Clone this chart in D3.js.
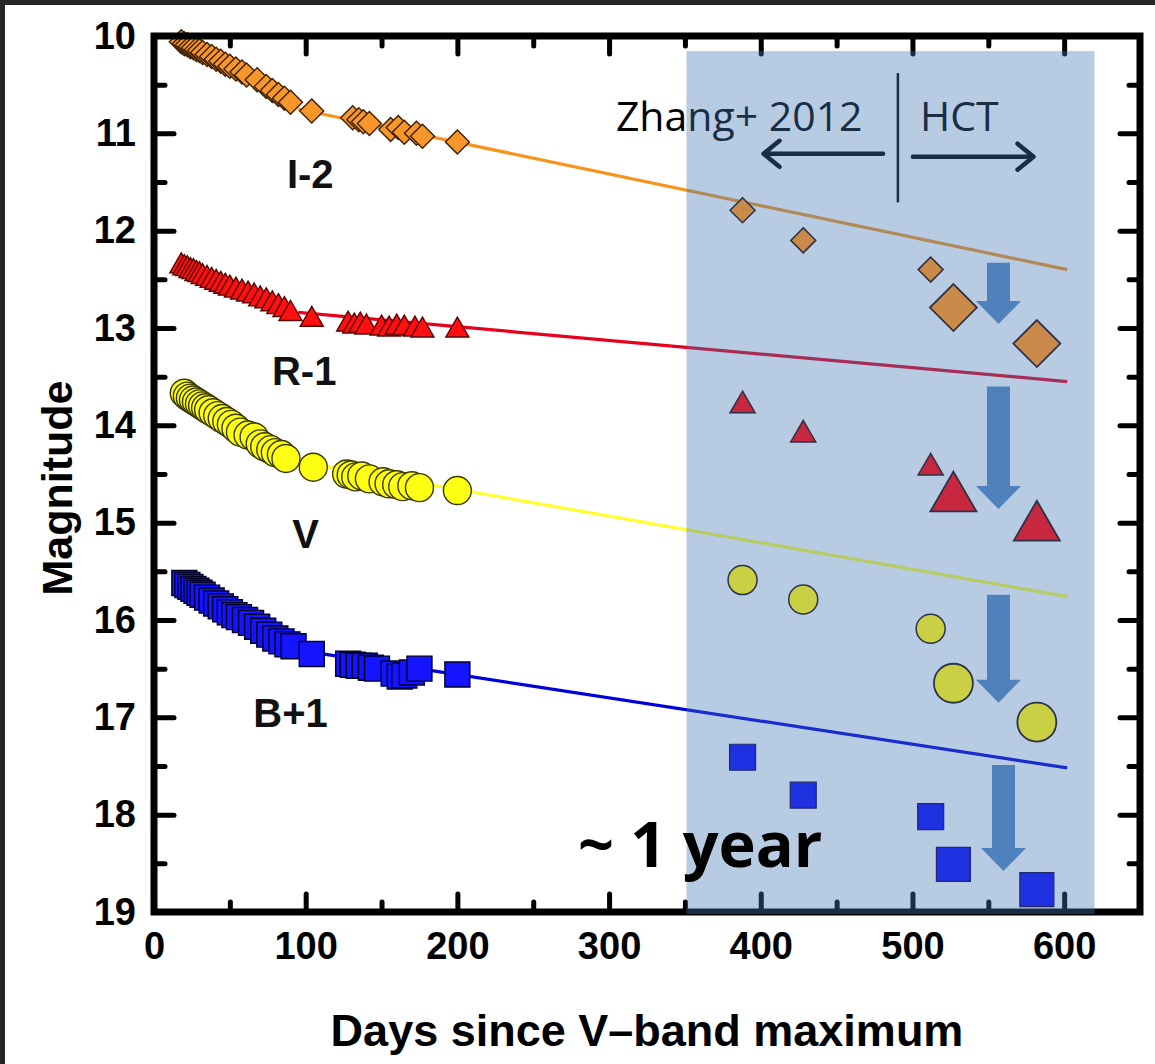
<!DOCTYPE html>
<html>
<head>
<meta charset="utf-8">
<script src="https://cdn.jsdelivr.net/npm/d3@7"></script>
<style>
  html, body { margin: 0; padding: 0; background: #262626; }
  svg { display: block; }
</style>
</head>
<body>
<svg id="chart" width="1155" height="1064"></svg>
<script>
// ---- Light-curve data (magnitudes already shifted by the band offsets) ----
const iDays = [18,20,22,24,26,28,30,32,35,38,41,44,47,50,54,58,61,68,74,78,82,86,90,104,131,135,138,142,156,161,165,173,177,200];
const iMags = [10.06,10.08,10.09,10.11,10.12,10.14,10.15,10.17,10.19,10.21,10.24,10.26,10.29,10.31,10.34,10.37,10.40,10.45,10.52,10.56,10.60,10.64,10.68,10.77,10.84,10.86,10.88,10.90,10.96,10.94,10.99,11.00,11.03,11.09];

const rDays = [18,20,22,24,26,28,30,32,35,38,41,44,47,50,54,58,62,66,70,74,78,82,86,90,104,128,132,136,140,150,155,160,165,172,177,200];
const rMags = [12.33,12.35,12.36,12.38,12.39,12.41,12.42,12.44,12.46,12.48,12.50,12.52,12.54,12.56,12.58,12.60,12.62,12.64,12.67,12.69,12.72,12.75,12.78,12.82,12.88,12.93,12.95,12.94,12.96,12.97,12.98,12.96,12.97,12.98,12.99,12.99];

const vDays = [20,22,24,26,28,30,32,34,36,39,42,45,48,51,54,57,62,66,70,73,77,80,84,87,105,127,130,133,137,142,151,155,160,164,170,175,200];
const vMags = [13.67,13.70,13.72,13.74,13.76,13.78,13.80,13.82,13.84,13.87,13.90,13.93,13.96,13.99,14.03,14.07,14.10,14.12,14.19,14.22,14.25,14.28,14.30,14.34,14.43,14.50,14.51,14.53,14.52,14.55,14.58,14.60,14.61,14.63,14.62,14.64,14.67];

const bDays = [20,22,24,26,28,30,32,35,38,41,44,47,50,53,56,60,64,68,72,76,80,84,88,92,104,128,131,135,139,143,147,158,162,165,170,175,200];
const bMags = [15.62,15.64,15.66,15.68,15.70,15.72,15.74,15.77,15.80,15.83,15.86,15.89,15.92,15.95,15.97,16.00,16.03,16.07,16.11,16.15,16.19,16.22,16.25,16.27,16.35,16.45,16.46,16.47,16.47,16.49,16.50,16.55,16.58,16.57,16.54,16.50,16.56];

// Late-time epochs: Zhang+ 2012 and HCT
const zhangDays = [388, 428, 512];
const hctDays   = [527, 582];
const iZhang = [11.79, 12.10, 12.40], iHct = [12.79, 13.16];
const rZhang = [13.76, 14.06, 14.40], rHct = [14.68, 14.98];
const vZhang = [15.59, 15.79, 16.09], vHct = [16.65, 17.05];
const bZhang = [17.41, 17.80, 18.02], bHct = [18.51, 18.77];

// Linear decline fits: [startDay, endDay], [startMag, endMag]
const fitDays = [95, 602];
const iFit = [10.75, 12.40];
const rFit = [12.84, 13.55];
const vFit = [14.37, 15.76];
const bFit = [16.31, 17.52];

// Axis ticks
const xMajor = [0, 100, 200, 300, 400, 500, 600];
const xMinor = [50, 150, 250, 350, 450, 550];
const yMajor = [10, 11, 12, 13, 14, 15, 16, 17, 18, 19];
const yMinor = [10.5, 11.5, 12.5, 13.5, 14.5, 15.5, 16.5, 17.5, 18.5];

// Band labels: [text, day, mag]
const bandLabels = [["I-2", 103, 11.56], ["R-1", 99, 13.585], ["V", 100, 15.26], ["B+1", 90, 17.10]];

// Drop arrows: [day, fromMag, toMag]
const dropArrows = [[556.7, 12.33, 12.96], [556.7, 13.60, 14.86], [556.7, 15.74, 16.85], [560, 17.49, 18.58]];

// ---- Layout ----
const svg = d3.select("#chart");
const x = d3.scaleLinear().domain([0, 650]).range([154, 1140]);
const y = d3.scaleLinear().domain([10, 19]).range([36, 912]);
const AX_FONT = "'Liberation Sans', Arial, sans-serif";
const CAL_FONT = "'Open Sans', 'Noto Sans', sans-serif";

svg.append("rect").attr("x", 5).attr("y", 5).attr("width", 1150).attr("height", 1059).attr("fill", "#ffffff");

const plot = svg.append("g");

// Fit lines
const fits = [[iFit, "#f7941d"], [rFit, "#e6001e"], [vFit, "#ffff33"], [bFit, "#0000dd"]];
const line = d3.line().x(d => x(d[0])).y(d => y(d[1]));
fits.forEach(([m, c]) => {
  plot.append("path")
    .datum([[fitDays[0], m[0]], [fitDays[1], m[1]]])
    .attr("d", line).attr("fill", "none").attr("stroke", c).attr("stroke-width", 3.2);
});

// Marker shapes (size = full width)
function shapePath(shape, s) {
  const h = s / 2;
  if (shape === "diamond") return `M0,${-h}L${h},0L0,${h}L${-h},0Z`;
  if (shape === "square") return `M${-h},${-h}H${h}V${h}H${-h}Z`;
  if (shape === "triangle") { const t = s * 0.866 / 2; return `M0,${-t}L${h},${t}L${-h},${t}Z`; }
  return d3.arc()({innerRadius: 0, outerRadius: h, startAngle: 0, endAngle: 2 * Math.PI});
}
function markers(layer, days, mags, shape, size, fill, stroke, sw) {
  layer.append("g").selectAll("path").data(days.map((d, i) => [d, mags[i]])).join("path")
    .attr("transform", d => `translate(${x(d[0])},${y(d[1])})`)
    .attr("d", shapePath(shape, size))
    .attr("fill", fill).attr("stroke", stroke).attr("stroke-width", sw);
}

// Early-time photometry
markers(plot, iDays, iMags, "diamond", 24, "#f7962a", "#3d2000", 1.4);
markers(plot, rDays, rMags, "triangle", 23, "#ff1010", "#5a0000", 1.4);
markers(plot, vDays, vMags, "circle", 28, "#ffff14", "#3a3a00", 1.4);
markers(plot, bDays, bMags, "square", 25, "#1414ff", "#00002a", 1.4);

// Axes with inward ticks on all four sides
function styleAxis(g) {
  g.select(".domain").remove();
  g.selectAll(".tick line").attr("stroke", "#000").attr("stroke-width", 5).attr("stroke-linecap", "round");
  g.selectAll(".tick text").attr("font-family", AX_FONT).attr("font-weight", "bold").attr("font-size", 38).attr("fill", "#000");
}
plot.append("g").attr("transform", `translate(0,${y(19)})`)
  .call(d3.axisBottom(x).tickValues(xMajor).tickSize(-18).tickPadding(20).tickFormat(d3.format("d"))).call(styleAxis);
plot.append("g").attr("transform", `translate(0,${y(19)})`)
  .call(d3.axisBottom(x).tickValues(xMinor).tickSize(-10).tickFormat("")).call(styleAxis);
plot.append("g").attr("transform", `translate(0,${y(10)})`)
  .call(d3.axisTop(x).tickValues(xMajor).tickSize(-18).tickFormat("")).call(styleAxis);
plot.append("g").attr("transform", `translate(0,${y(10)})`)
  .call(d3.axisTop(x).tickValues(xMinor).tickSize(-10).tickFormat("")).call(styleAxis);
plot.append("g").attr("transform", `translate(${x(0)},0)`)
  .call(d3.axisLeft(y).tickValues(yMajor).tickSize(-20).tickPadding(18).tickFormat(d3.format("d"))).call(styleAxis);
plot.append("g").attr("transform", `translate(${x(0)},0)`)
  .call(d3.axisLeft(y).tickValues(yMinor).tickSize(-11).tickFormat("")).call(styleAxis);
plot.append("g").attr("transform", `translate(${x(650)},0)`)
  .call(d3.axisRight(y).tickValues(yMajor).tickSize(-20).tickFormat("")).call(styleAxis);
plot.append("g").attr("transform", `translate(${x(650)},0)`)
  .call(d3.axisRight(y).tickValues(yMinor).tickSize(-11).tickFormat("")).call(styleAxis);

// Plot frame
plot.append("rect")
  .attr("x", x(0)).attr("y", y(10)).attr("width", x(650) - x(0)).attr("height", y(19) - y(10))
  .attr("fill", "none").attr("stroke", "#000").attr("stroke-width", 7);

// Axis titles
svg.append("text").attr("x", (x(0) + x(650)) / 2).attr("y", 1046).attr("text-anchor", "middle")
  .attr("font-family", AX_FONT).attr("font-weight", "bold").attr("font-size", 45).attr("fill", "#000")
  .text("Days since V\u2013band maximum");
svg.append("text").attr("transform", "translate(72,488) rotate(-90)").attr("text-anchor", "middle")
  .attr("font-family", AX_FONT).attr("font-weight", "bold").attr("font-size", 43).attr("fill", "#000")
  .text("Magnitude");

// Band labels
plot.append("g").selectAll("text").data(bandLabels).join("text")
  .attr("x", d => x(d[1])).attr("y", d => y(d[2])).attr("text-anchor", "middle")
  .attr("font-family", AX_FONT).attr("font-weight", "bold").attr("font-size", 40).attr("fill", "#111")
  .text(d => d[0]);

// Source annotation (sits beneath the highlight band)
const note = svg.append("g");
note.append("text").attr("x", x(304.5)).attr("y", y(10.98))
  .attr("font-family", CAL_FONT).attr("font-size", 41).attr("fill", "#000").text("Zhang+ 2012");
note.append("text").attr("x", x(505)).attr("y", y(10.98))
  .attr("font-family", CAL_FONT).attr("font-size", 41).attr("fill", "#000").text("HCT");
note.append("line").attr("x1", x(490.4)).attr("x2", x(490.4)).attr("y1", y(10.38)).attr("y2", y(11.71))
  .attr("stroke", "#000").attr("stroke-width", 2.5);
function lineArrow(d0, d1, m) {
  const x0 = x(d0), x1 = x(d1), yy = y(m), dir = Math.sign(x1 - x0);
  note.append("path")
    .attr("d", `M${x0},${yy}H${x1}M${x1 - dir * 16},${yy - 13}L${x1},${yy}L${x1 - dir * 16},${yy + 13}`)
    .attr("fill", "none").attr("stroke", "#000").attr("stroke-width", 4.5)
    .attr("stroke-linejoin", "round").attr("stroke-linecap", "round");
}
lineArrow(480.6, 401.8, 11.21);
lineArrow(500.3, 579.8, 11.24);

// Highlight band over the late-time epochs
svg.append("rect")
  .attr("x", x(351)).attr("y", y(10.155)).attr("width", x(620) - x(351)).attr("height", y(19.02) - y(10.155))
  .attr("fill", "#4276b6").attr("fill-opacity", 0.38);

// Late-time photometry, in the muted tones of the highlighted panel
const late = svg.append("g");
markers(late, zhangDays, iZhang, "diamond", 25, "#c98a4a", "#2c3248", 1.5);
markers(late, hctDays, iHct, "diamond", 47, "#c98a4a", "#2c3248", 1.8);
markers(late, zhangDays, rZhang, "triangle", 25, "#c7273f", "#2c3248", 1.5);
markers(late, hctDays, rHct, "triangle", 46, "#c7273f", "#2c3248", 1.8);
markers(late, zhangDays, vZhang, "circle", 29, "#c9d044", "#2c3248", 1.5);
markers(late, hctDays, vHct, "circle", 39, "#c9d044", "#2c3248", 1.8);
markers(late, zhangDays, bZhang, "square", 26, "#1f30e0", "#1f2a70", 1.2);
markers(late, hctDays, bHct, "square", 34, "#1f30e0", "#1f2a70", 1.2);

// Block arrows showing the drop below the extrapolated decline
svg.append("g").selectAll("path").data(dropArrows).join("path")
  .attr("d", d => {
    const cx = x(d[0]), top = y(d[1]), tip = y(d[2]), base = tip - 23;
    return `M${cx - 11.5},${top}H${cx + 11.5}V${base}H${cx + 22.5}L${cx},${tip}L${cx - 22.5},${base}H${cx - 11.5}Z`;
  })
  .attr("fill", "#4f81bd");

svg.append("text").attr("x", x(279.5)).attr("y", y(18.54))
  .attr("font-family", CAL_FONT).attr("font-weight", "bold").attr("font-size", 63).attr("fill", "#000")
  .text("~ 1 year");
</script>
</body>
</html>
